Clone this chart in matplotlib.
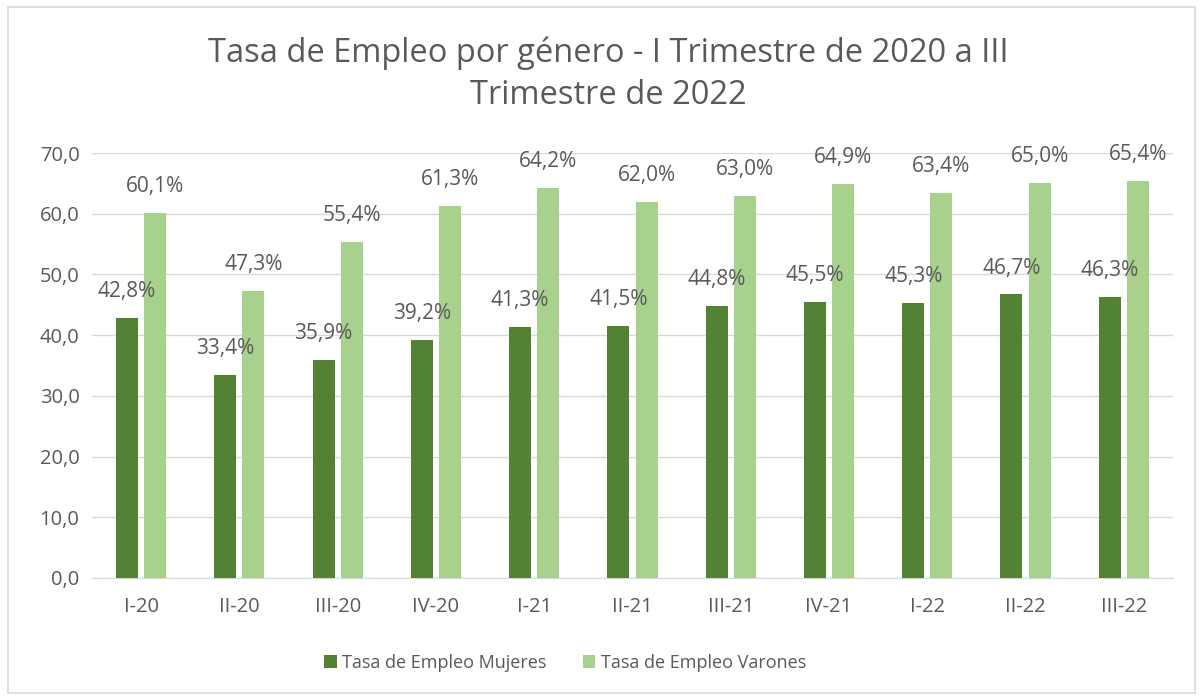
import numpy as np
import matplotlib.pyplot as plt
from matplotlib.patches import Rectangle

categories = ["I-20", "II-20", "III-20", "IV-20", "I-21", "II-21", "III-21",
              "IV-21", "I-22", "II-22", "III-22"]
mujeres = [42.8, 33.4, 35.9, 39.2, 41.3, 41.5, 44.8, 45.5, 45.3, 46.7, 46.3]
varones = [60.1, 47.3, 55.4, 61.3, 64.2, 62.0, 63.0, 64.9, 63.4, 65.0, 65.4]

title = "Tasa de Empleo por género - I Trimestre de 2020 a III\nTrimestre de 2022"
label_m = "Tasa de Empleo Mujeres"
label_v = "Tasa de Empleo Varones"

DARK = "#548235"
LIGHT = "#A9D18E"
TXT = "#595959"
GRID = "#D9D9D9"

plt.rcParams["font.family"] = ["Open Sans", "DejaVu Sans"]

fig = plt.figure(figsize=(12.03, 7.00), dpi=100)
ax = fig.add_axes([0.0765, 0.1743, 0.8985, 0.6071])

x = np.arange(len(categories))
w = 0.224
off = 0.143
b1 = ax.bar(x - off, mujeres, w, color=DARK, label=label_m, zorder=3)
b2 = ax.bar(x + off, varones, w, color=LIGHT, label=label_v, zorder=3)

for xi, v in zip(x, mujeres):
    ax.annotate("{:.1f}%".format(v).replace(".", ","), (xi - off, v),
                xytext=(0, 19), textcoords="offset points", ha="center",
                va="center", fontsize=15, color=TXT)
for xi, v in zip(x, varones):
    ax.annotate("{:.1f}%".format(v).replace(".", ","), (xi + off, v),
                xytext=(0, 19), textcoords="offset points", ha="center",
                va="center", fontsize=15, color=TXT)

ax.set_xlim(-0.5, len(categories) - 0.5)
ax.set_ylim(0, 70)
ax.set_yticks(np.arange(0, 71, 10))
ax.set_yticklabels(["{:.1f}".format(t).replace(".", ",") for t in np.arange(0, 71, 10)])
ax.set_xticks(x)
ax.set_xticklabels(categories)
ax.tick_params(length=0, labelsize=14.5, labelcolor=TXT)
ax.tick_params(axis="x", pad=14)
ax.tick_params(axis="y", pad=9)
ax.grid(axis="y", color=GRID, linewidth=1, zorder=0)
for s in ["top", "right", "left"]:
    ax.spines[s].set_visible(False)
ax.spines["bottom"].set_color(GRID)

fig.text(0.5055, 0.894, title, ha="center", va="center", fontsize=23.5,
         color=TXT, linespacing=1.38)

fig.legend(handles=[b1, b2], loc="center", bbox_to_anchor=(0.4697, 0.053),
           ncol=2, frameon=False, fontsize=13, labelcolor=TXT,
           handlelength=0.7, handleheight=0.7, handletextpad=0.3,
           columnspacing=2.0)

fig.patches.append(Rectangle((0.007, 0.01), 0.986, 0.98, transform=fig.transFigure,
                             fill=False, edgecolor=GRID, linewidth=1.2))

fig.savefig("out.png", dpi=100)
